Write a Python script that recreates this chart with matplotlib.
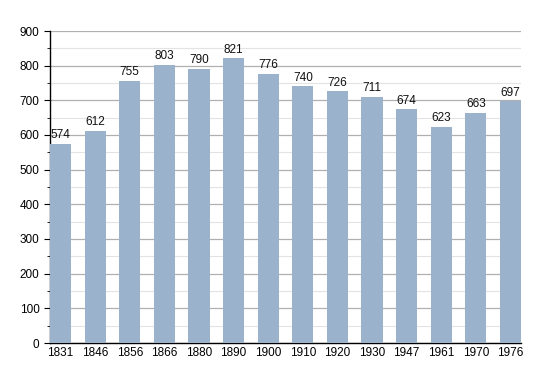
import numpy as np
import matplotlib.pyplot as plt
from matplotlib.ticker import MultipleLocator

plt.rcParams["font.family"] = ["Liberation Sans", "DejaVu Sans"]

years = ["1831", "1846", "1856", "1866", "1880", "1890", "1900",
         "1910", "1920", "1930", "1947", "1961", "1970", "1976"]
population = [574, 612, 755, 803, 790, 821, 776, 740, 726, 711, 674, 623, 663, 697]

fig = plt.figure(figsize=(5.5, 3.73), dpi=100)
ax = fig.add_axes([50 / 550, 1 - 343 / 373, 471 / 550, 312 / 373])

x = np.arange(len(years))
w = 0.61
ax.bar(x, population, width=w, color="#9ab2cc", zorder=3)
for xi, v in zip(x, population):
    ax.text(xi, v + 8, str(v), ha="center", va="bottom", fontsize=8.5,
            color="#111111", zorder=4)

ax.set_xlim(-w / 2, len(years) - 1 + w / 2)
ax.set_ylim(0, 900)
ax.yaxis.set_major_locator(MultipleLocator(100))
ax.yaxis.set_minor_locator(MultipleLocator(50))
ax.grid(which="major", axis="y", color="#b0b0b0", linewidth=0.9, zorder=0)
ax.grid(which="minor", axis="y", color="#e3e3e3", linewidth=0.8, zorder=0)
ax.set_xticks(x)
ax.set_xticklabels(years)
ax.tick_params(axis="x", length=0, labelsize=8.5, pad=3)
ax.tick_params(axis="y", which="major", length=4, labelsize=8.5, direction="out")
ax.tick_params(axis="y", which="minor", length=2.5, direction="out")
for s in ["top", "right"]:
    ax.spines[s].set_visible(False)
ax.spines["left"].set_linewidth(1.0)
ax.spines["bottom"].set_linewidth(1.0)

plt.savefig("out.png", dpi=100)
plt.close()
